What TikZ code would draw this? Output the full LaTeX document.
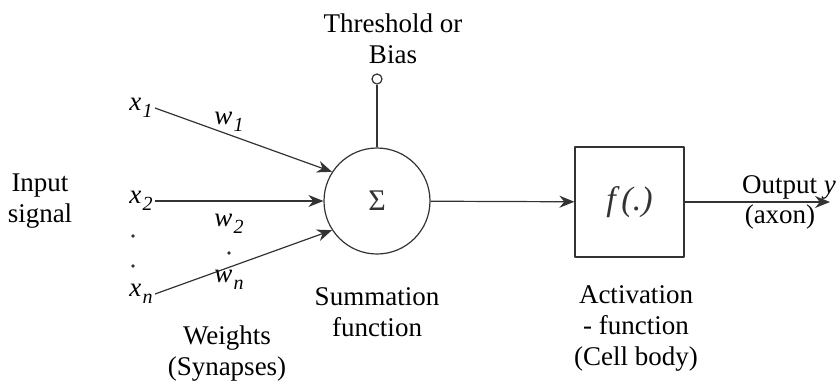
\documentclass[tikz,border=0pt]{standalone}
\usepackage{fontspec}
\setmainfont{Liberation Serif}
\usetikzlibrary{arrows.meta}
\definecolor{inkgray}{HTML}{333333}
\newcommand{\sig}[2]{\textit{#1}\kern0.6pt\raisebox{-0.55ex}{\fontsize{10}{10}\selectfont\textit{#2}}}

\begin{document}
\begin{tikzpicture}[x=0.5pt, y=-0.5pt, line join=round,
  every node/.style={font=\fontsize{13.5}{15.5}\selectfont, align=center, text=black},
  wire/.style={inkgray, line width=0.6pt},
  feed/.style={wire, -{Stealth[length=7.5pt, width=6pt]}}]
  \useasboundingbox (0,0) rectangle (837,381);
  % summing junction, bias and activation block
  \node[wire, draw, circle, minimum size=53pt, inner sep=0pt,
        font=\fontsize{15}{15}\selectfont] (sum) at (377,201) {Σ};
  \node[wire, draw, circle, minimum size=5pt, inner sep=0pt] (bias) at (377,79) {};
  \node[wire, draw, minimum width=54.5pt, minimum height=55pt,
        font=\fontsize{17}{17}\selectfont] (act) at (629.5,202) {\textit{f\,(.)}};
  \coordinate (out) at (830,202);
  % inputs
  \node[anchor=east, inner sep=1pt] (x1) at (155,108) {\sig{x}{1}};
  \node[anchor=east, inner sep=1pt] (x2) at (155,201) {\sig{x}{2}};
  \node[anchor=east, inner sep=1pt] (xn) at (155,294) {\sig{x}{n}};
  \foreach \y in {236,266} \fill[inkgray] (133,\y) circle (0.9pt);
  % connectors
  \draw[feed] (x1.east) -- (sum.147);
  \draw[feed] (x2.east) -- (sum.west);
  \draw[feed] (xn.east) -- (sum.213);
  \draw[wire] (bias) -- (sum);
  \draw[feed] (sum) -- (act);
  \draw[feed] (act) -- (out);
  % weights
  \node (w1) at (229,122) {\sig{w}{1}};
  \node (w2) at (229,224) {\sig{w}{2}};
  \fill[inkgray] (229,253) circle (0.9pt);
  \node (wn) at (229,280) {\sig{w}{n}};
  % captions
  \node (input) at (40,201) {Input\\signal};
  \node (thresh) at (393,39) {Threshold or\\Bias};
  \node (weights) at (227,354) {Weights\\(Synapses)};
  \node (summ) at (377,312) {Summation\\function};
  \node (actcap) at (636,328) {Activation\\- function\\(Cell body)};
  \node (outy) at (789,187) {Output \textit{y}};
  \node (axon) at (780,217) {(axon)};
\end{tikzpicture}
\end{document}
